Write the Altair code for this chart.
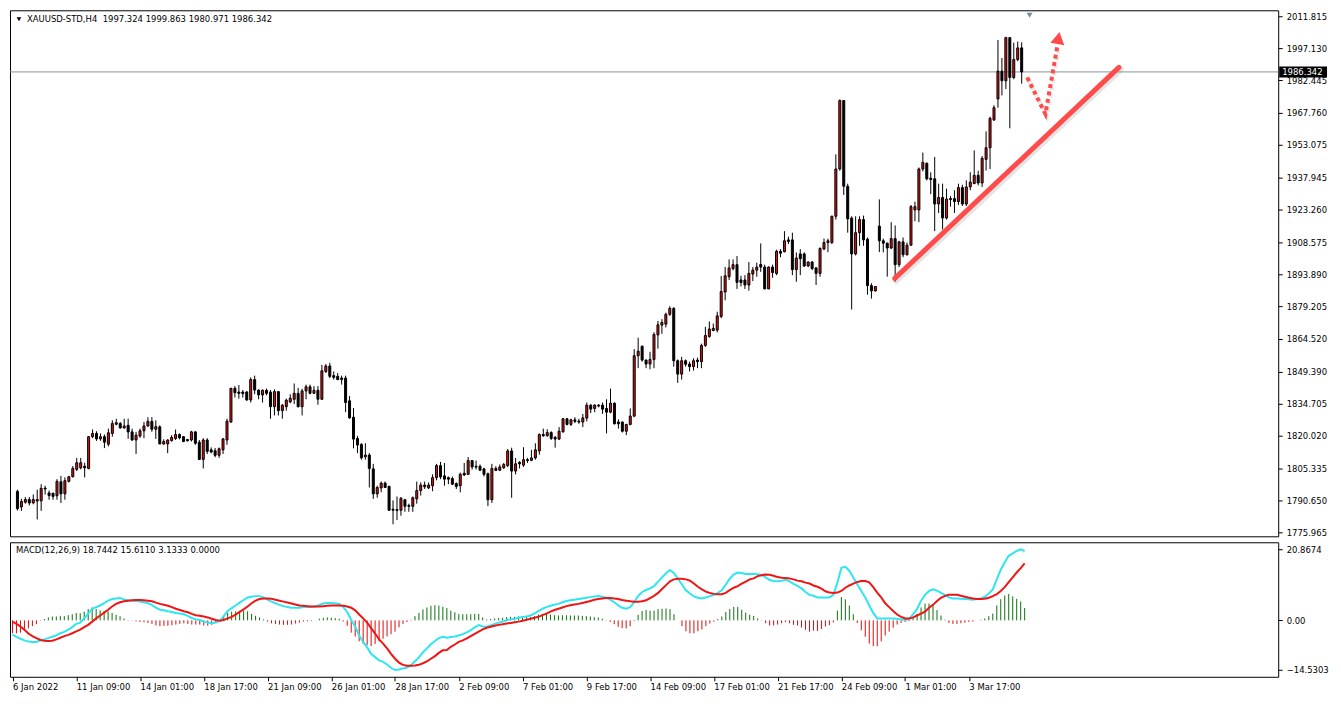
import altair as alt
import pandas as pd

# ---------------- data ----------------
opens = [
    1794.7, 1787.6, 1789.8, 1791.0, 1789.5, 1790.3, 1790.4, 1796.2, 1794.0, 1793.9,
    1792.7, 1799.1, 1793.6, 1799.3, 1801.4, 1804.8, 1805.5, 1806.2, 1805.2, 1819.7,
    1821.2, 1818.7, 1819.7, 1816.3, 1821.2, 1825.4, 1825.7, 1823.7, 1824.9, 1821.9,
    1818.2, 1820.0, 1822.4, 1824.6, 1826.7, 1823.1, 1824.2, 1816.4, 1816.4, 1817.9,
    1818.9, 1820.7, 1819.7, 1818.4, 1818.2, 1821.9, 1817.2, 1809.3, 1818.2, 1813.7,
    1813.3, 1811.2, 1813.7, 1818.2, 1826.4, 1841.8, 1840.1, 1840.1, 1840.1, 1836.5,
    1845.8, 1841.0, 1838.8, 1840.9, 1840.1, 1833.4, 1840.3, 1831.6, 1833.4, 1835.6,
    1836.8, 1839.5, 1833.4, 1840.6, 1842.5, 1839.5, 1840.9, 1836.8, 1849.5, 1852.0,
    1847.6, 1847.3, 1846.5, 1846.5, 1836.1, 1828.6, 1818.9, 1816.2, 1810.5, 1811.3,
    1805.0, 1793.6, 1796.3, 1798.5, 1797.0, 1786.6, 1786.4, 1786.1, 1790.9, 1788.3,
    1787.9, 1791.3, 1795.1, 1797.6, 1796.3, 1797.3, 1801.0, 1806.5, 1801.8, 1801.0,
    1800.6, 1798.3, 1797.3, 1803.0, 1802.5, 1808.8, 1806.2, 1806.2, 1805.0, 1802.8,
    1790.9, 1805.2, 1804.4, 1805.5, 1806.5, 1813.2, 1804.0, 1808.0, 1806.7, 1809.2,
    1808.9, 1810.0, 1813.2, 1820.7, 1820.1, 1821.6, 1819.4, 1818.6, 1821.9, 1827.9,
    1825.3, 1827.4, 1826.8, 1826.4, 1828.2, 1834.1, 1832.6, 1834.1, 1834.1, 1832.6,
    1830.9, 1835.0, 1826.4, 1826.4, 1822.2, 1825.3, 1829.1, 1856.7, 1861.0, 1854.7,
    1852.9, 1855.0, 1866.2, 1870.7, 1871.1, 1875.6, 1878.3, 1854.4, 1848.3, 1854.4,
    1852.9, 1851.7, 1854.7, 1854.0, 1861.4, 1865.5, 1868.2, 1868.4, 1874.6, 1885.8,
    1892.8, 1896.5, 1898.3, 1891.3, 1891.3, 1889.0, 1894.0, 1895.8, 1898.4, 1897.2,
    1887.2, 1897.2, 1894.3, 1904.4, 1904.2, 1909.6, 1909.6, 1896.0, 1903.2, 1903.2,
    1897.7, 1899.5, 1896.8, 1894.3, 1905.4, 1908.4, 1908.4, 1920.4, 1942.0, 1973.3,
    1934.1, 1919.6, 1903.2, 1912.9, 1918.9, 1909.9, 1888.7, 1886.3, 1915.9, 1909.2,
    1908.1, 1905.9, 1910.2, 1898.3, 1908.7, 1902.8, 1907.2, 1923.3, 1923.3, 1942.0,
    1944.6, 1937.8, 1937.5, 1926.0, 1929.0, 1919.6, 1928.5, 1928.5, 1927.1, 1933.5,
    1926.0, 1933.8, 1935.3, 1939.1, 1935.6, 1946.4, 1951.7, 1964.4, 1974.0, 1986.7,
    1982.3, 2002.0, 1983.8, 1992.0, 1997.324,
]
highs = [
    1795.5, 1791.3, 1792.1, 1792.1, 1793.3, 1795.5, 1798.0, 1797.3, 1795.1, 1794.0,
    1800.3, 1801.8, 1801.1, 1801.8, 1806.3, 1810.0, 1810.0, 1807.8, 1820.0, 1823.0,
    1822.2, 1821.2, 1820.7, 1823.4, 1827.2, 1827.9, 1826.4, 1827.9, 1827.9, 1823.4,
    1821.9, 1823.4, 1826.4, 1828.6, 1828.6, 1827.2, 1824.9, 1818.5, 1818.5, 1820.4,
    1823.0, 1821.2, 1820.0, 1818.7, 1822.4, 1822.2, 1818.2, 1819.0, 1819.0, 1814.8,
    1814.5, 1814.8, 1819.0, 1827.9, 1842.0, 1842.8, 1843.3, 1841.0, 1840.6, 1846.8,
    1847.6, 1841.3, 1841.3, 1841.7, 1841.0, 1841.3, 1840.3, 1834.6, 1837.1, 1839.1,
    1844.0, 1842.0, 1841.6, 1843.5, 1843.5, 1842.8, 1842.8, 1852.5, 1852.9, 1853.5,
    1849.5, 1848.8, 1847.6, 1847.6, 1838.3, 1832.8, 1820.1, 1816.7, 1816.7, 1812.2,
    1807.3, 1797.3, 1799.2, 1799.2, 1797.3, 1790.6, 1792.4, 1792.1, 1791.3, 1789.1,
    1792.4, 1799.2, 1798.8, 1799.2, 1798.8, 1802.5, 1807.3, 1808.2, 1807.7, 1801.5,
    1801.5, 1798.8, 1803.3, 1807.7, 1810.4, 1808.8, 1808.8, 1807.0, 1805.5, 1803.3,
    1807.3, 1806.2, 1807.0, 1807.7, 1814.1, 1814.7, 1810.0, 1808.5, 1814.9, 1810.0,
    1813.7, 1816.7, 1821.2, 1823.4, 1823.1, 1822.2, 1820.0, 1824.1, 1828.2, 1828.2,
    1827.9, 1828.6, 1827.9, 1830.1, 1835.3, 1834.6, 1834.6, 1834.6, 1835.3, 1836.8,
    1841.7, 1835.3, 1827.6, 1826.7, 1825.6, 1832.6, 1859.7, 1864.9, 1861.4, 1855.0,
    1858.5, 1867.4, 1872.6, 1873.4, 1876.4, 1879.3, 1878.9, 1855.0, 1856.2, 1855.0,
    1854.0, 1855.5, 1855.8, 1862.2, 1869.9, 1872.3, 1871.4, 1876.8, 1893.1, 1897.2,
    1900.7, 1900.7, 1902.2, 1893.2, 1893.5, 1899.5, 1897.2, 1899.2, 1908.0, 1898.3,
    1897.5, 1898.3, 1905.1, 1905.4, 1913.6, 1911.1, 1912.9, 1903.9, 1905.4, 1903.9,
    1899.8, 1899.9, 1897.2, 1906.2, 1910.2, 1910.2, 1920.7, 1948.7, 1973.8, 1973.3,
    1935.3, 1920.4, 1920.4, 1920.4, 1920.7, 1910.7, 1889.8, 1888.4, 1928.1, 1910.2,
    1908.4, 1917.7, 1916.2, 1909.2, 1910.7, 1908.4, 1925.6, 1927.1, 1942.7, 1949.5,
    1945.0, 1940.5, 1947.5, 1935.3, 1935.3, 1933.0, 1929.6, 1932.3, 1935.3, 1934.8,
    1936.8, 1940.5, 1950.5, 1941.2, 1947.9, 1959.2, 1965.9, 1971.1, 2000.9, 1992.7,
    2002.4, 2002.0, 1999.7, 2000.2, 1999.863,
]
lows = [
    1786.0, 1785.8, 1789.1, 1788.3, 1788.8, 1781.9, 1785.8, 1793.3, 1790.9, 1790.9,
    1790.9, 1789.4, 1790.9, 1798.8, 1801.1, 1804.0, 1804.8, 1801.1, 1804.8, 1819.0,
    1817.8, 1817.8, 1814.5, 1815.3, 1819.7, 1824.9, 1823.4, 1823.4, 1818.7, 1817.8,
    1811.8, 1819.2, 1819.0, 1824.2, 1821.9, 1818.7, 1816.3, 1816.0, 1812.2, 1817.5,
    1818.2, 1818.5, 1817.2, 1817.6, 1817.5, 1816.0, 1809.0, 1805.2, 1811.8, 1812.1,
    1810.3, 1810.0, 1811.8, 1816.0, 1826.1, 1837.6, 1837.1, 1837.6, 1836.1, 1835.3,
    1839.1, 1836.8, 1835.3, 1838.6, 1827.9, 1829.4, 1829.4, 1827.9, 1831.6, 1835.0,
    1834.6, 1833.1, 1829.4, 1836.8, 1839.1, 1839.4, 1834.3, 1836.5, 1848.8, 1846.5,
    1845.8, 1845.5, 1843.5, 1830.9, 1827.9, 1814.4, 1812.2, 1809.2, 1809.2, 1796.5,
    1791.3, 1791.8, 1794.3, 1796.3, 1785.8, 1779.7, 1781.6, 1783.6, 1785.4, 1785.4,
    1785.4, 1789.1, 1792.8, 1795.8, 1795.8, 1794.8, 1799.8, 1800.3, 1797.3, 1798.0,
    1797.7, 1795.8, 1794.3, 1801.8, 1802.2, 1804.7, 1804.7, 1804.0, 1801.5, 1788.0,
    1789.4, 1804.0, 1804.0, 1805.0, 1805.8, 1791.8, 1802.5, 1805.2, 1805.9, 1807.7,
    1808.5, 1809.2, 1811.5, 1819.7, 1819.7, 1818.2, 1814.7, 1818.2, 1821.6, 1824.9,
    1824.6, 1825.9, 1825.6, 1824.1, 1826.7, 1830.5, 1830.9, 1833.1, 1830.1, 1821.2,
    1830.4, 1825.3, 1823.4, 1821.6, 1820.4, 1824.9, 1828.6, 1851.0, 1854.0, 1851.0,
    1850.5, 1851.0, 1859.9, 1866.7, 1869.6, 1874.9, 1851.7, 1844.3, 1845.8, 1851.7,
    1849.5, 1849.9, 1851.0, 1851.0, 1860.7, 1864.9, 1867.9, 1867.4, 1873.8, 1882.0,
    1891.3, 1895.7, 1887.2, 1888.3, 1887.2, 1886.4, 1890.8, 1892.8, 1895.0, 1887.2,
    1887.2, 1892.3, 1893.5, 1901.7, 1903.9, 1907.7, 1893.5, 1890.5, 1893.5, 1897.2,
    1897.2, 1895.8, 1889.0, 1892.8, 1905.1, 1904.0, 1907.7, 1918.9, 1941.2, 1930.1,
    1912.9, 1877.8, 1902.5, 1906.9, 1906.9, 1884.6, 1882.8, 1886.0, 1904.0, 1903.9,
    1892.8, 1905.4, 1890.5, 1897.2, 1901.7, 1902.5, 1906.9, 1918.1, 1917.7, 1940.9,
    1936.8, 1930.5, 1913.6, 1921.9, 1914.4, 1918.9, 1924.8, 1921.9, 1925.6, 1925.1,
    1925.1, 1932.3, 1935.3, 1934.5, 1933.8, 1941.3, 1942.0, 1963.9, 1970.0, 1975.6,
    1978.5, 1960.6, 1983.0, 1991.2, 1980.971,
]
closes = [
    1786.8, 1790.1, 1791.0, 1789.4, 1791.0, 1791.0, 1796.1, 1795.8, 1792.8, 1792.4,
    1799.3, 1793.6, 1799.6, 1801.4, 1805.2, 1807.8, 1807.8, 1805.5, 1819.7, 1821.2,
    1818.7, 1819.7, 1817.2, 1821.5, 1825.7, 1826.1, 1823.7, 1824.6, 1821.9, 1818.2,
    1820.4, 1822.4, 1824.6, 1826.7, 1823.1, 1824.3, 1816.4, 1817.5, 1818.2, 1819.4,
    1820.7, 1819.2, 1817.5, 1817.8, 1821.9, 1816.7, 1809.3, 1818.2, 1813.0, 1812.7,
    1811.2, 1814.2, 1818.7, 1826.8, 1841.8, 1839.8, 1839.5, 1839.4, 1836.5, 1845.8,
    1841.0, 1838.8, 1840.9, 1839.5, 1833.4, 1840.3, 1831.6, 1834.1, 1836.4, 1837.3,
    1839.5, 1833.4, 1840.6, 1842.5, 1839.5, 1840.9, 1836.8, 1849.8, 1852.0, 1847.3,
    1846.8, 1845.8, 1845.8, 1835.3, 1828.3, 1818.6, 1815.9, 1810.0, 1811.3, 1805.2,
    1793.6, 1796.5, 1798.5, 1796.5, 1786.1, 1786.1, 1786.0, 1791.6, 1787.9, 1787.9,
    1791.8, 1795.1, 1797.6, 1796.8, 1797.6, 1801.0, 1806.5, 1801.3, 1800.3, 1800.3,
    1798.0, 1797.0, 1802.5, 1802.2, 1808.8, 1805.9, 1805.8, 1804.4, 1802.5, 1790.9,
    1805.2, 1804.3, 1805.9, 1807.0, 1813.2, 1804.0, 1807.3, 1807.3, 1809.2, 1808.8,
    1810.0, 1813.7, 1820.7, 1820.1, 1821.6, 1818.9, 1818.6, 1822.2, 1827.9, 1825.3,
    1827.4, 1826.7, 1826.4, 1828.3, 1834.1, 1832.3, 1834.1, 1833.7, 1832.3, 1830.9,
    1835.0, 1825.6, 1825.6, 1822.2, 1825.3, 1829.1, 1856.7, 1858.8, 1854.7, 1852.9,
    1855.0, 1866.4, 1870.8, 1871.9, 1875.6, 1878.3, 1854.4, 1848.3, 1854.4, 1852.8,
    1851.7, 1854.4, 1854.0, 1861.4, 1865.9, 1868.9, 1869.2, 1874.9, 1886.0, 1893.2,
    1896.8, 1898.3, 1890.2, 1890.1, 1889.0, 1894.3, 1895.8, 1897.2, 1897.2, 1887.2,
    1897.2, 1894.7, 1904.4, 1903.5, 1909.2, 1908.9, 1896.0, 1901.3, 1901.0, 1897.7,
    1899.5, 1896.5, 1894.3, 1905.7, 1908.4, 1909.2, 1920.4, 1942.0, 1973.3, 1934.1,
    1919.2, 1903.2, 1912.9, 1918.9, 1909.6, 1888.7, 1886.3, 1888.3, 1909.2, 1908.1,
    1905.9, 1910.2, 1898.3, 1908.7, 1902.8, 1907.2, 1924.8, 1924.8, 1942.0, 1945.0,
    1937.5, 1937.2, 1926.0, 1929.0, 1919.6, 1928.3, 1928.0, 1927.1, 1933.5, 1926.0,
    1933.8, 1936.0, 1939.1, 1935.6, 1946.9, 1951.7, 1965.1, 1970.0, 1986.7, 1982.3,
    2002.0, 1983.8, 1992.0, 1997.3, 1986.342,
]
# MACD main (cyan) and signal (red) lines, read against the panel's tick labels
macd_main = [
    -4.15, -4.81, -5.38, -5.85, -6.22, -6.32, -6.32, -5.85, -5.56, -5.19,
    -4.81, -4.43, -3.77, -3.39, -2.73, -1.98, -1.03, -0.66, 0.57, 1.99,
    3.40, 3.88, 4.35, 5.01, 5.76, 6.24, 6.42, 6.52, 6.14, 5.86,
    5.76, 5.67, 5.48, 5.29, 5.01, 4.54, 3.69, 3.12, 2.93, 2.65,
    2.46, 2.18, 1.99, 1.80, 1.33, 0.67, 0.29, 0.10, -0.37, -0.66,
    -0.84, -0.66, -0.09, 1.23, 2.74, 3.59, 4.35, 5.20, 5.95, 6.71,
    6.90, 7.09, 7.09, 6.71, 6.05, 5.48, 5.01, 4.54, 4.16, 3.88,
    3.69, 3.69, 3.69, 3.88, 3.88, 3.88, 4.06, 4.54, 4.91, 5.10,
    5.10, 5.01, 4.82, 3.88, 2.46, 0.10, -1.79, -4.43, -6.32, -7.92,
    -9.81, -10.76, -11.70, -12.17, -12.93, -13.87, -14.53, -14.40, -14.06, -13.78,
    -13.12, -11.98, -10.85, -9.34, -8.21, -6.98, -6.04, -5.19, -4.81, -5.09,
    -4.90, -4.71, -4.43, -4.05, -3.49, -2.83, -2.07, -1.41, -1.79, -1.88,
    -1.50, -1.03, -0.66, -0.37, 0.01, 0.29, 0.48, 0.76, 0.95, 1.14,
    1.42, 1.99, 2.74, 3.40, 3.88, 4.25, 4.54, 4.82, 5.29, 5.67,
    5.86, 6.05, 6.24, 6.42, 6.61, 6.80, 6.99, 7.09, 6.90, 6.61,
    6.05, 5.29, 4.35, 3.69, 3.40, 3.88, 5.29, 7.09, 8.31, 8.88,
    9.35, 10.01, 11.33, 12.56, 13.79, 14.73, 13.79, 12.18, 10.48, 8.78,
    7.84, 6.99, 6.61, 6.42, 6.71, 7.09, 7.37, 8.03, 8.78, 10.48,
    12.18, 13.50, 13.98, 13.88, 13.60, 13.60, 13.60, 13.50, 13.32, 12.56,
    11.81, 11.52, 11.43, 11.62, 11.90, 11.43, 10.67, 10.11, 9.35, 8.31,
    7.46, 7.18, 6.71, 6.71, 6.71, 6.71, 7.46, 10.96, 15.39, 15.68,
    14.54, 12.56, 10.48, 8.60, 6.71, 4.35, 2.18, 0.57, 0.57, 0.57,
    0.57, 0.57, 0.48, 0.29, 0.10, 0.38, 1.80, 3.31, 5.76, 7.46,
    8.60, 9.07, 8.69, 8.03, 7.37, 6.71, 6.42, 6.42, 6.33, 6.24,
    6.14, 6.05, 6.24, 6.42, 6.90, 7.84, 9.07, 12.00, 14.80, 17.00,
    18.90, 19.60, 20.30, 20.80, 20.30,
]
macd_signal = [
    -0.37, -1.03, -1.79, -2.73, -3.86, -4.62, -5.19, -5.75, -5.94, -6.04,
    -5.94, -5.56, -5.09, -4.62, -4.24, -3.77, -3.20, -2.73, -1.98, -1.32,
    -0.37, 0.57, 1.42, 2.27, 3.12, 4.06, 4.82, 5.29, 5.58, 5.76,
    5.86, 5.95, 5.95, 5.86, 5.76, 5.58, 5.20, 4.82, 4.54, 4.25,
    3.88, 3.40, 3.03, 2.65, 2.37, 1.89, 1.52, 1.33, 1.14, 0.86,
    0.48, 0.10, -0.09, 0.10, 0.57, 1.04, 1.70, 2.46, 3.22, 4.06,
    5.01, 5.76, 6.24, 6.42, 6.42, 6.33, 6.05, 5.76, 5.48, 5.20,
    4.91, 4.63, 4.35, 4.25, 4.16, 4.06, 4.06, 4.06, 4.16, 4.25,
    4.35, 4.35, 4.35, 4.25, 4.06, 3.69, 2.93, 1.70, 0.57, -0.66,
    -2.26, -3.86, -5.56, -6.79, -8.21, -9.81, -11.23, -12.36, -13.02, -13.30,
    -13.30, -13.21, -13.02, -12.55, -11.98, -11.23, -10.47, -9.53, -8.77, -8.68,
    -7.74, -7.07, -6.32, -5.85, -5.28, -4.62, -3.96, -3.30, -2.64, -2.17,
    -1.88, -1.60, -1.32, -1.13, -0.94, -0.75, -0.56, -0.37, -0.09, 0.19,
    0.48, 0.76, 1.04, 1.52, 1.99, 2.55, 3.03, 3.40, 3.78, 4.16,
    4.44, 4.63, 4.82, 5.10, 5.39, 5.67, 6.05, 6.24, 6.42, 6.52,
    6.52, 6.42, 6.24, 5.95, 5.76, 5.58, 5.48, 5.48, 5.58, 5.86,
    6.52, 7.18, 8.03, 9.16, 10.30, 11.43, 11.99, 12.18, 12.18, 11.99,
    11.62, 10.77, 9.82, 9.07, 8.41, 8.03, 7.75, 7.65, 7.65, 8.03,
    8.88, 9.54, 10.01, 10.77, 11.33, 11.99, 12.28, 12.94, 13.22, 13.41,
    13.32, 13.03, 12.66, 12.47, 12.37, 12.28, 11.99, 11.62, 11.43, 11.05,
    10.77, 10.20, 9.82, 9.26, 8.50, 8.12, 8.03, 8.12, 8.60, 9.54,
    10.20, 10.77, 11.24, 11.52, 11.52, 11.15, 9.73, 8.12, 6.71, 5.01,
    3.88, 2.74, 1.70, 1.04, 0.57, 0.57, 0.86, 1.42, 1.99, 2.55,
    3.69, 4.54, 5.67, 6.61, 7.18, 7.46, 7.46, 7.46, 7.18, 6.90,
    6.61, 6.42, 6.24, 6.24, 6.33, 6.61, 7.09, 7.65, 8.60, 9.73,
    11.20, 12.60, 14.00, 15.30, 16.70,
]

tick_bars = [0, 16, 32, 48, 64, 80, 96, 112, 128, 144, 160, 176, 192, 208, 224, 240]
tick_labels = ["6 Jan 2022", "11 Jan 09:00", "14 Jan 01:00", "18 Jan 17:00",
               "21 Jan 09:00", "26 Jan 01:00", "28 Jan 17:00", "2 Feb 09:00",
               "7 Feb 01:00", "9 Feb 17:00", "14 Feb 09:00", "17 Feb 01:00",
               "21 Feb 17:00", "24 Feb 09:00", "1 Mar 01:00", "3 Mar 17:00"]
price_ticks = [2011.815, 1997.130, 1982.445, 1967.760, 1953.075, 1937.945,
               1923.260, 1908.575, 1893.890, 1879.205, 1864.520, 1849.390,
               1834.705, 1820.020, 1805.335, 1790.650, 1775.965]
macd_ticks = [20.8674, 0.0, -14.5303]
last_price = [1986.342]
last_label = ["1986.342"]
trend_bar = [221.9, 278.6]
trend_price = [1892.0, 1988.4]
arrow_bar = [255.4, 260.0, 263.0]
arrow_price = [1983.8, 1967.1, 1997.9]
head_bar = [263.3]
head_price = [2001.8]
shift_bar = [256.0]
header_text = ["XAUUSD-STD,H4\u00a0 1997.324 1999.863 1980.971 1986.342"]
macd_text = ["MACD(12,26,9) 18.7442 15.6110 3.1333 0.0000"]

# ---------------- tables ----------------
n = len(closes)
candles = pd.DataFrame({"i": list(range(n)), "open": opens, "high": highs,
                        "low": lows, "close": closes})
candles["high"] = candles[["high", "open", "close"]].max(axis=1)
candles["low"] = candles[["low", "open", "close"]].min(axis=1)
macd_df = pd.DataFrame({"i": list(range(len(macd_main))), "macd": macd_main,
                        "signal": macd_signal})
trend_df = pd.DataFrame({"i": trend_bar, "p": trend_price})
arrow_df = pd.DataFrame({"i": arrow_bar, "p": arrow_price})
head_df = pd.DataFrame({"i": head_bar, "p": head_price})
last_df = pd.DataFrame({"p": last_price, "lbl": last_label})
shift_df = pd.DataFrame({"i": shift_bar})
head_txt_df = pd.DataFrame({"t": header_text})
macd_txt_df = pd.DataFrame({"t": macd_text})

# ---------------- layout / style ----------------
W = 1273
H1 = 528
H2 = 135
FONT = "DejaVu Sans"
FS = 8.5
BULL = "#e01010"
LINE_RED = "#ff4b4b"

x_scale = alt.Scale(domain=[-0.625, -0.625 + W / 4.0], nice=False, zero=False)
y_price = alt.Scale(domain=[1774.2, 2014.5], nice=False, zero=False)
y_macd = alt.Scale(domain=[-16.51, 22.85], nice=False, zero=False)

price_axis = alt.Axis(orient="right", values=price_ticks, format=".3f", title=None,
                      domain=False, ticks=True, tickSize=4, tickColor="black",
                      labelColor="black", labelFont=FONT, labelFontSize=FS,
                      labelPadding=4, grid=False, labelOverlap=False, labelFlush=False)
macd_axis = alt.Axis(orient="right", values=macd_ticks, title=None, domain=False,
                     ticks=True, tickSize=4, tickColor="black", labelColor="black",
                     labelFont=FONT, labelFontSize=FS, labelPadding=4, grid=False,
                     labelOverlap=False, labelFlush=False,
                     labelExpr="datum.value == 0 ? '0.00' : format(datum.value, '.4f')")
lab_js = "[" + ",".join("'%s'" % s for s in tick_labels) + "]"
bar_js = "[" + ",".join(str(b) for b in tick_bars) + "]"
time_axis = alt.Axis(orient="bottom", values=tick_bars, title=None, domain=False,
                     ticks=True, tickSize=4, tickColor="black", labelColor="black",
                     labelFont=FONT, labelFontSize=FS, labelAlign="left",
                     labelBaseline="top", labelPadding=2, grid=False,
                     labelOverlap=False, labelFlush=False,
                     labelExpr=lab_js + "[indexof(" + bar_js + ", datum.value)]")

X = alt.X("i:Q", scale=x_scale, axis=None)
base = alt.Chart(candles)

wicks = base.mark_rule(color="black", strokeWidth=1).encode(
    x=X, y=alt.Y("low:Q", scale=y_price, axis=price_axis), y2="high:Q")
bodies = base.mark_bar(width=2, stroke="black", strokeWidth=1).encode(
    x=X, y=alt.Y("open:Q", scale=y_price, axis=price_axis), y2="close:Q",
    fill=alt.condition("datum.close >= datum.open", alt.value(BULL), alt.value("black")))

last_line = alt.Chart(last_df).mark_rule(color="#8695a4", strokeWidth=1).encode(
    y=alt.Y("p:Q", scale=y_price, axis=price_axis))
last_box = alt.Chart(last_df).mark_rule(color="black", strokeWidth=11).encode(
    x=alt.value(W + 1), x2=alt.value(W + 49), y=alt.Y("p:Q", scale=y_price, axis=price_axis))
last_txt = alt.Chart(last_df).mark_text(color="white", align="left", baseline="middle",
                                        font=FONT, fontSize=FS).encode(
    x=alt.value(W + 4), y=alt.Y("p:Q", scale=y_price, axis=price_axis), text="lbl:N")

trend_shadow = alt.Chart(trend_df).mark_line(color="#8a8a8a", opacity=0.22, strokeWidth=6,
                                             strokeCap="round", xOffset=1.5, yOffset=2.5).encode(
    x=X, y=alt.Y("p:Q", scale=y_price, axis=price_axis))
trend_line = alt.Chart(trend_df).mark_line(color=LINE_RED, strokeWidth=5,
                                           strokeCap="round").encode(
    x=X, y=alt.Y("p:Q", scale=y_price, axis=price_axis))
arrow_shadow = alt.Chart(arrow_df).mark_line(color="#8a8a8a", opacity=0.22, strokeWidth=4,
                                             strokeDash=[4, 3.5], xOffset=1.5, yOffset=2).encode(
    x=X, y=alt.Y("p:Q", scale=y_price, axis=price_axis))
arrow_line = alt.Chart(arrow_df).mark_line(color=LINE_RED, strokeWidth=4,
                                           strokeDash=[4, 3.5]).encode(
    x=X, y=alt.Y("p:Q", scale=y_price, axis=price_axis))
arrow_head = alt.Chart(head_df).mark_point(shape="triangle-up", filled=True, size=200,
                                           color=LINE_RED, opacity=1, angle=10).encode(
    x=X, y=alt.Y("p:Q", scale=y_price, axis=price_axis))

shift_mark = alt.Chart(shift_df).mark_point(shape="triangle-down", filled=True, size=36,
                                            color="#7d8a97", opacity=1).encode(
    x=X, y=alt.value(5))
hdr_tri = alt.Chart(head_txt_df).mark_point(shape="triangle-down", filled=True, size=22,
                                            color="black", opacity=1).encode(
    x=alt.value(9), y=alt.value(9))
hdr_txt = alt.Chart(head_txt_df).mark_text(align="left", baseline="middle", font=FONT,
                                           fontSize=FS, color="black").encode(
    x=alt.value(17), y=alt.value(9), text="t:N")

price_panel = alt.layer(
    last_line, wicks, bodies, trend_shadow, trend_line, arrow_shadow, arrow_line,
    arrow_head, last_box, last_txt, shift_mark, hdr_tri, hdr_txt
).properties(width=W, height=H1)

mbase = alt.Chart(macd_df).transform_calculate(hist="datum.macd - datum.signal", zero="0")
XM = alt.X("i:Q", scale=x_scale, axis=time_axis)
hist = mbase.mark_rule(strokeWidth=1).encode(
    x=XM, y=alt.Y("hist:Q", scale=y_macd, axis=macd_axis), y2="zero:Q",
    color=alt.condition("datum.hist >= 0", alt.value("#0c6f0c"), alt.value("#dc0a0a")))
main_line = mbase.mark_line(color="#2ee6f0", strokeWidth=2).encode(
    x=XM, y=alt.Y("macd:Q", scale=y_macd, axis=macd_axis))
sig_line = mbase.mark_line(color="#f01414", strokeWidth=2).encode(
    x=XM, y=alt.Y("signal:Q", scale=y_macd, axis=macd_axis))
macd_hdr = alt.Chart(macd_txt_df).mark_text(align="left", baseline="middle", font=FONT,
                                            fontSize=FS, color="black").encode(
    x=alt.value(6), y=alt.value(8), text="t:N")

macd_panel = alt.layer(hist, main_line, sig_line, macd_hdr).properties(width=W, height=H2)

chart = alt.vconcat(price_panel, macd_panel, spacing=3).properties(
    padding=0, background="white"
).configure_view(stroke="black", strokeWidth=1)

chart.save("out.html", embed_options={"renderer": "svg", "actions": False})
